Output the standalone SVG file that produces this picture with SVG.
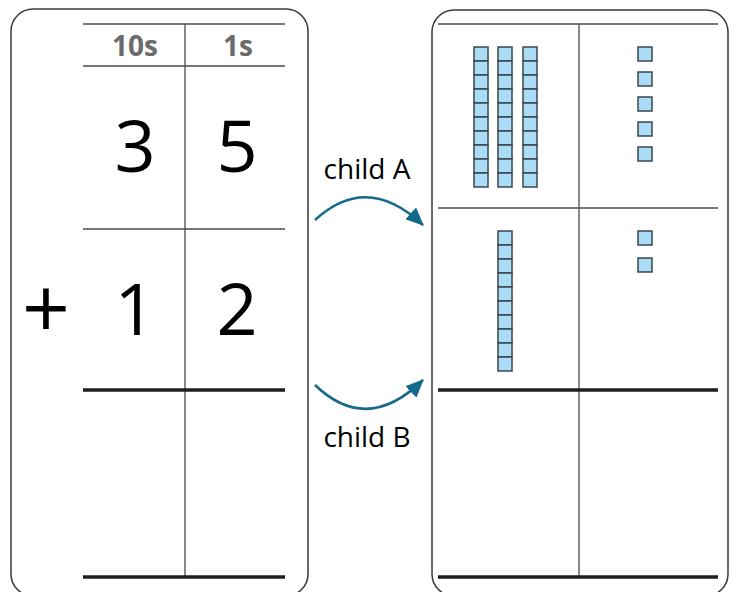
<svg xmlns="http://www.w3.org/2000/svg" width="736" height="592" viewBox="0 0 736 592">
<style>
.board{fill:#fff;stroke:#3a3a3a;stroke-width:1.5}
.thin{stroke:#4a4a4a;stroke-width:1.3;fill:none}
.thick{stroke:#1e1e1e;stroke-width:3.5;fill:none}
.hdr{font-family:"Open Sans","Liberation Sans",sans-serif;font-weight:bold;font-size:28px;fill:#6b6b6b;text-anchor:middle}
.dig{font-family:"Open Sans","Liberation Sans",sans-serif;font-size:72px;fill:#000;text-anchor:middle}
.lbl{font-family:"Open Sans","Liberation Sans",sans-serif;font-size:28px;fill:#000;text-anchor:middle}
.cell{fill:#aadcf5;stroke:#3b4650;stroke-width:1.5}
.arc{fill:none;stroke:#15698c;stroke-width:2.5}
</style>
<defs>
<rect id="u" class="cell" width="14" height="14"/>
<g id="rod">
<use href="#u" y="0"/><use href="#u" y="14"/><use href="#u" y="28"/><use href="#u" y="42"/><use href="#u" y="56"/>
<use href="#u" y="70"/><use href="#u" y="84"/><use href="#u" y="98"/><use href="#u" y="112"/><use href="#u" y="126"/>
</g>
<marker id="ah" markerUnits="userSpaceOnUse" markerWidth="18" markerHeight="16" viewBox="0 0 18 16" refX="17" refY="8" orient="auto">
<path d="M0,0 L18,8 L0,16 Z" fill="#15698c"/>
</marker>
</defs>

<g id="left-board">
<rect class="board" x="11" y="9" width="297" height="587" rx="22"/>
<line class="thin" x1="83" y1="24" x2="285" y2="24"/>
<line class="thin" x1="83" y1="66" x2="285" y2="66"/>
<line class="thin" x1="83" y1="229" x2="285" y2="229"/>
<line class="thin" x1="185" y1="24" x2="185" y2="577"/>
<line class="thick" x1="83" y1="390" x2="285" y2="390"/>
<line class="thick" x1="83" y1="577" x2="285" y2="577"/>
<text class="hdr" x="135" y="56">10s</text>
<text class="hdr" x="238" y="56">1s</text>
<text class="dig" x="135" y="172">3</text>
<text class="dig" x="237" y="172">5</text>
<text class="dig" x="46" y="338" style="font-size:84px">+</text>
<text class="dig" x="135" y="335">1</text>
<text class="dig" x="237" y="335">2</text>
</g>

<g id="right-board">
<rect class="board" x="432" y="10" width="296" height="586" rx="22"/>
<line class="thin" x1="438" y1="24" x2="718" y2="24"/>
<line class="thin" x1="438" y1="208" x2="718" y2="208"/>
<line class="thin" x1="579" y1="24" x2="579" y2="577"/>
<line class="thick" x1="438" y1="390" x2="718" y2="390"/>
<line class="thick" x1="438" y1="577" x2="718" y2="577"/>
<use href="#rod" x="474" y="47"/>
<use href="#rod" x="498" y="47"/>
<use href="#rod" x="523" y="47"/>
<use href="#u" x="638" y="47"/>
<use href="#u" x="638" y="72"/>
<use href="#u" x="638" y="97"/>
<use href="#u" x="638" y="122"/>
<use href="#u" x="638" y="147"/>
<use href="#rod" x="498" y="231"/>
<use href="#u" x="638" y="231"/>
<use href="#u" x="638" y="258"/>
</g>

<g id="connectors">
<path class="arc" d="M315,220 Q367,172 423,225" marker-end="url(#ah)"/>
<text class="lbl" x="367" y="179">child A</text>
<path class="arc" d="M315,385 Q367,435 423,380" marker-end="url(#ah)"/>
<text class="lbl" x="367" y="447">child B</text>
</g>
</svg>
